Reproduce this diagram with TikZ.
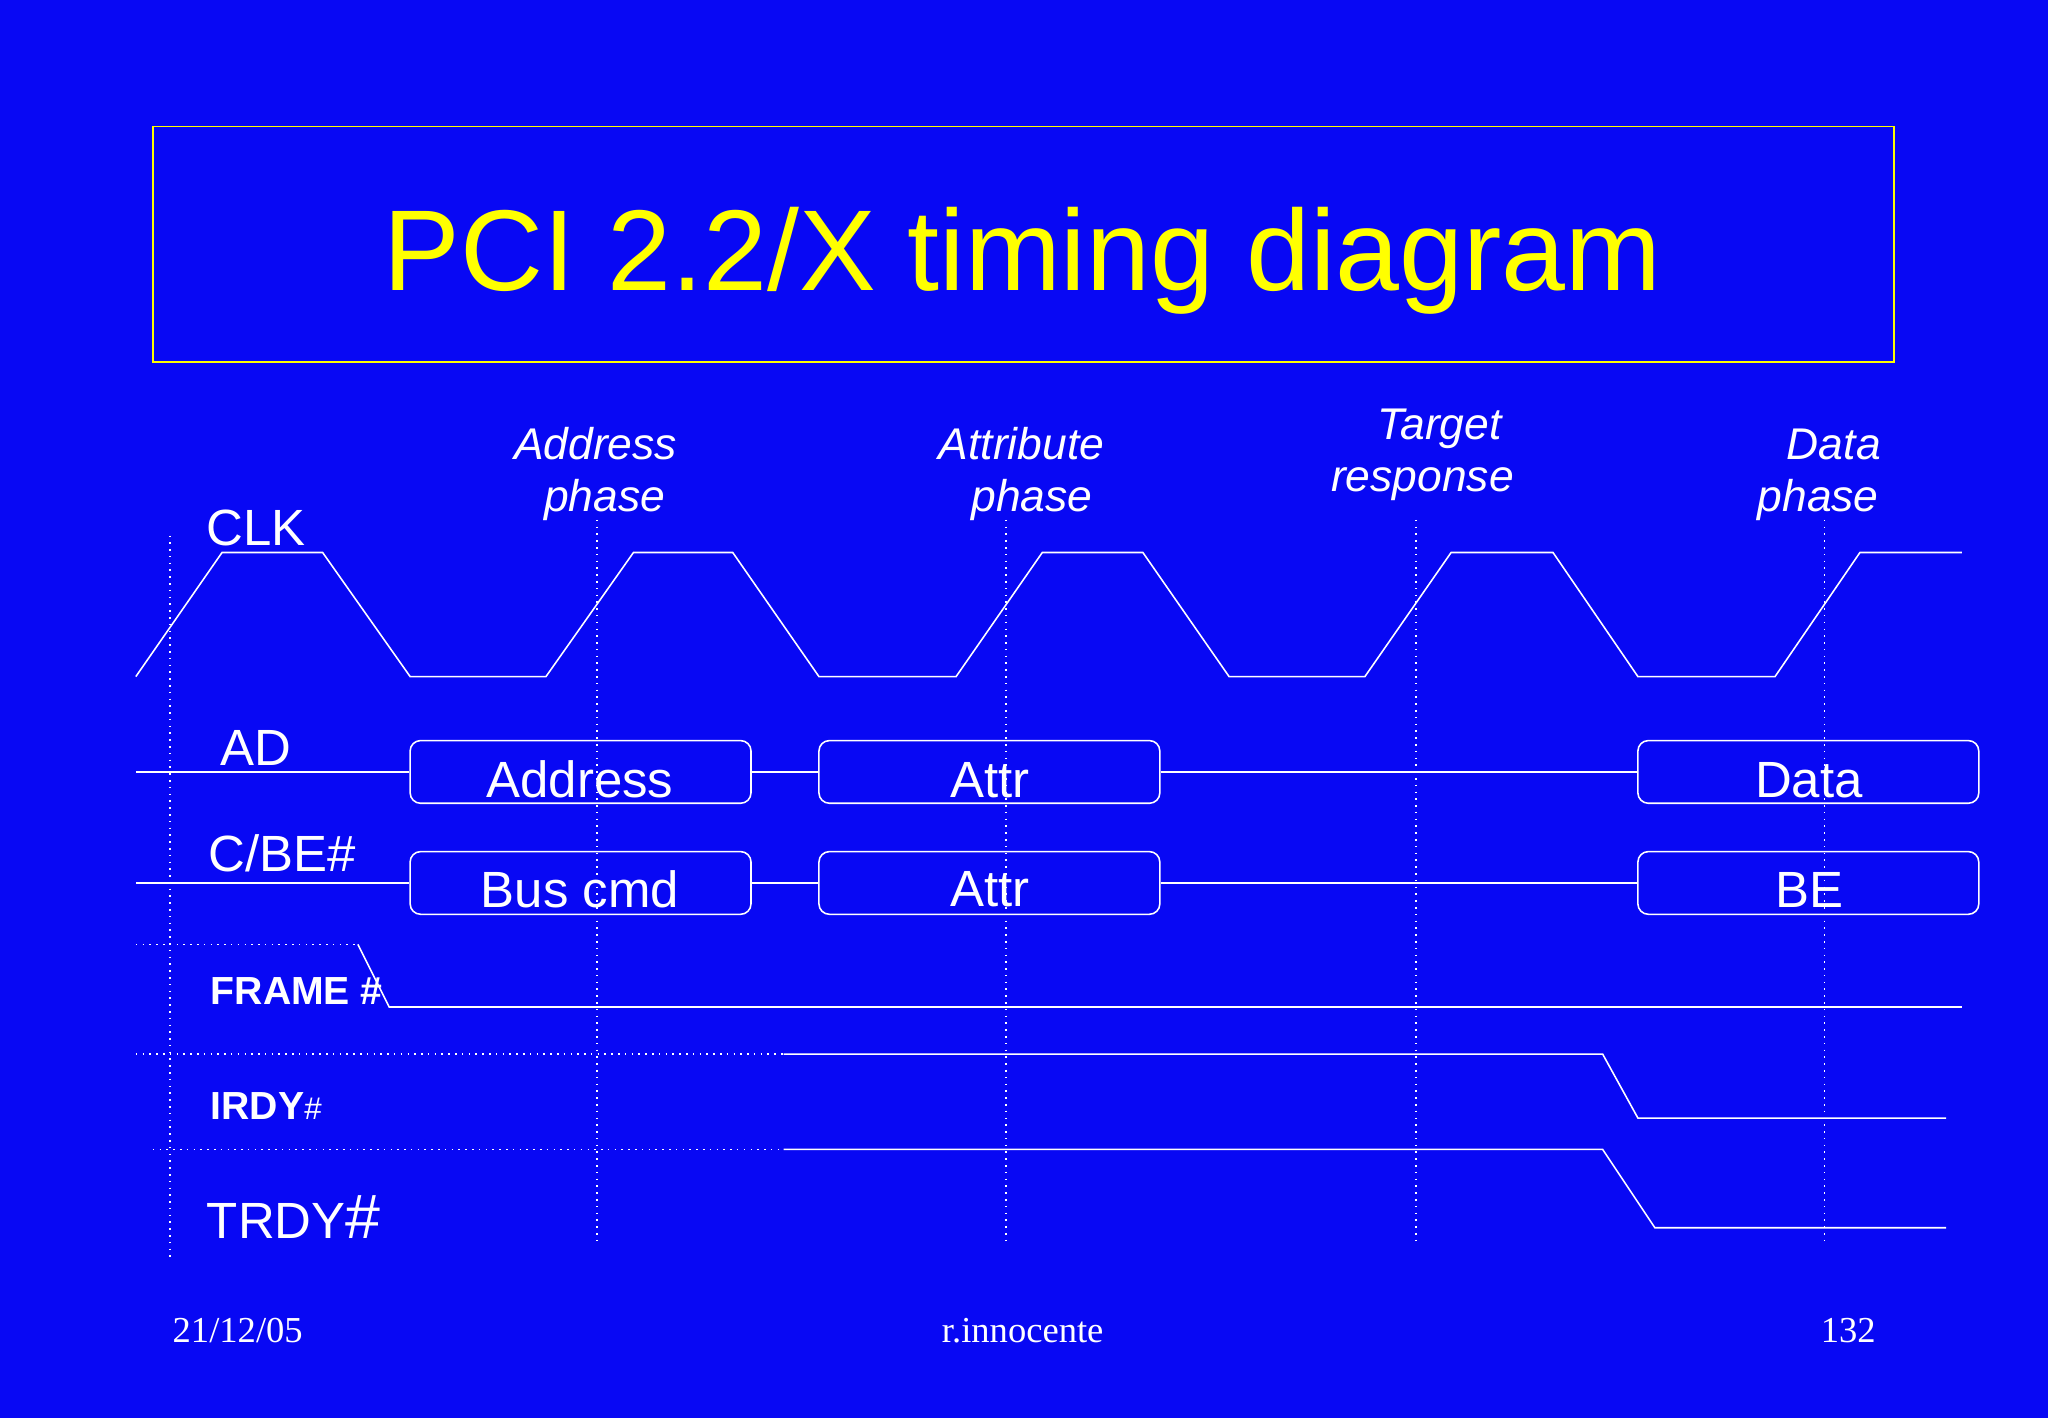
\documentclass[tikz,border=0pt]{standalone}
\usepackage{fontspec}
\setmainfont{Liberation Sans}
\newfontfamily\timesf{Liberation Serif}
\definecolor{bg}{RGB}{8,8,244}
\definecolor{ttl}{RGB}{255,255,0}
\begin{document}
\begin{tikzpicture}[x=0.5pt,y=-0.5pt,
  sig/.style={draw=white,line width=0.6pt},
  dots/.style={draw=white,line width=0.6pt,dotted},
  bx/.style={draw=white,line width=0.6pt,rounded corners=4pt},
  lbl/.style={text=white,font=\fontsize{19.5}{22}\selectfont,inner sep=0pt},
  ph/.style={text=white,font=\fontsize{17}{20}\selectfont\itshape,inner sep=0pt},
  bl/.style={text=white,font=\fontsize{15}{18}\selectfont\bfseries,inner sep=0pt},
  ft/.style={text=white,font=\timesf\fontsize{14}{16}\selectfont,inner sep=0pt}]
\fill[bg] (0,0) rectangle (1568,1086);
\useasboundingbox (0,0) rectangle (1568,1086);
\draw[ttl,line width=0.6pt] (117,97) rectangle (1450,277);
\node[text=ttl,font=\fontsize{44}{50}\selectfont] (title) at (783,200) {PCI 2.2/X timing diagram};
% phase labels
\node[ph] (p1a) at (456,340) {Address}; \node[ph] (p1b) at (463,383) {phase};
\node[ph] (p2a) at (782,340) {Attribute}; \node[ph] (p2b) at (790,383) {phase};
\node[ph] (p3a) at (1102,328) {Target}; \node[ph] (p3b) at (1089,371) {response};
\node[ph] (p4a) at (1404,340) {Data}; \node[ph] (p4b) at (1392,383) {phase};
% dotted verticals
\draw[dots] (130,410) -- (130,965);
\foreach \x in {457,770,1084,1397} \draw[dots] (\x,398) -- (\x,952);
% CLK
\node[lbl] (clk) at (196,404) {CLK};
\draw[sig] (104,518) -- (170,423) -- (247,423) -- (314,518) -- (418,518) -- (485,423) -- (561,423) -- (627,518) -- (732,518) -- (798,423) -- (875,423) -- (941,518) -- (1045,518) -- (1111,423) -- (1189,423) -- (1254,518) -- (1359,518) -- (1424,423) -- (1502,423);
% AD
\node[lbl] (ad) at (196,573) {AD};
\node[bx,minimum width=130.5pt,minimum height=24pt] (a1) at (444.5,591) {};
\node[lbl] at (444,597) {Address};
\node[bx,minimum width=130.5pt,minimum height=24pt] (a2) at (757.5,591) {};
\node[lbl] at (758,597) {Attr};
\node[bx,minimum width=130.5pt,minimum height=24pt] (a3) at (1384.5,591) {};
\node[lbl] at (1385,597) {Data};
\draw[sig] (104,591) -- (a1.west); \draw[sig] (a1.east) -- (a2.west); \draw[sig] (a2.east) -- (a3.west);
% C/BE
\node[lbl] (cbe) at (216,653) {C/BE\#};
\node[bx,minimum width=130.5pt,minimum height=24pt] (c1) at (444.5,676) {};
\node[lbl] at (444,681) {Bus cmd};
\node[bx,minimum width=130.5pt,minimum height=24pt] (c2) at (757.5,676) {};
\node[lbl] at (758,681) {Attr};
\node[bx,minimum width=130.5pt,minimum height=24pt] (c3) at (1384.5,676) {};
\node[lbl] at (1385,681) {BE};
\draw[sig] (104,676) -- (c1.west); \draw[sig] (c1.east) -- (c2.west); \draw[sig] (c2.east) -- (c3.west);
% FRAME
\node[bl,anchor=west] (fr) at (161,759) {FRAME \#};
\draw[dots] (104,723) -- (274,723);
\draw[sig] (274,723) -- (298,771) -- (1502,771);
% IRDY
\node[bl,anchor=west] (ir) at (161,847) {IRDY{\fontsize{12}{14}\selectfont\mdseries\#}};
\draw[dots] (104,807) -- (600,807);
\draw[sig] (600,807) -- (1227,807) -- (1254,856) -- (1490,856);
% TRDY
\node[lbl,anchor=west] (tr) at (158,932) {TRDY{\fontsize{24}{26}\selectfont\#}};
\draw[dots] (117,880) -- (600,880);
\draw[sig] (600,880) -- (1227,880) -- (1267,940) -- (1490,940);
% footer
\node[ft] (f1) at (182,1019) {21/12/05};
\node[ft] (f2) at (783,1019) {r.innocente};
\node[ft] (f3) at (1415,1019) {132};
\end{tikzpicture}
\end{document}
